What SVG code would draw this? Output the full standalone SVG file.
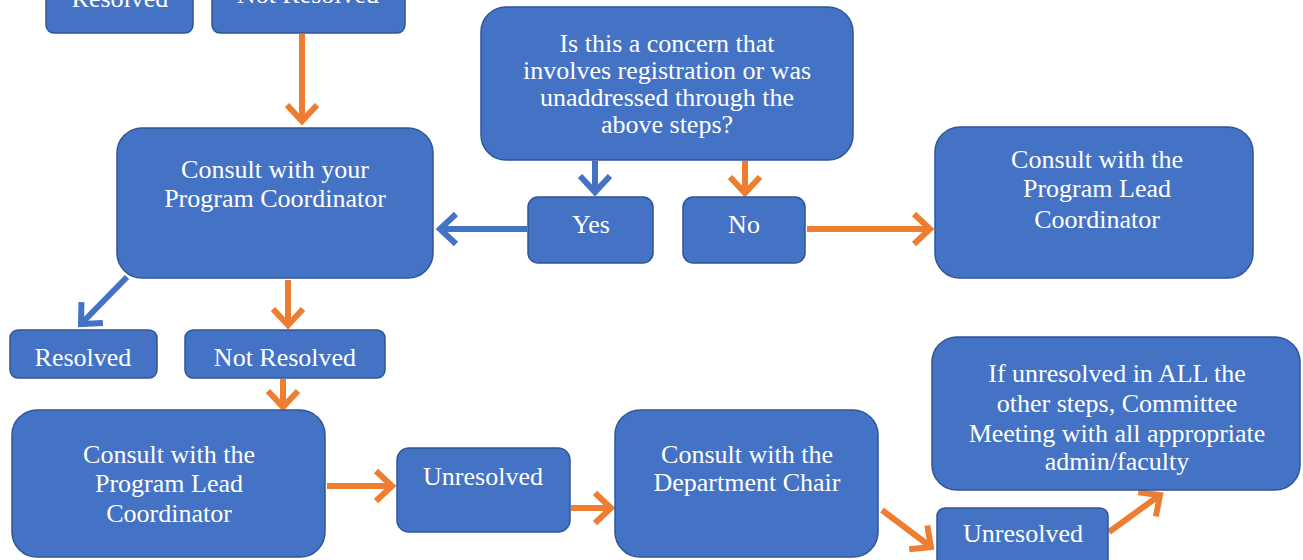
<svg xmlns="http://www.w3.org/2000/svg" width="1303" height="560" viewBox="0 0 1303 560">
<style>
.box{fill:#4472C4;stroke:#2F5597;stroke-width:1.5}
.t{fill:#ffffff;font-family:"Liberation Serif","Times New Roman",serif;font-size:26px;text-anchor:middle}
.ob{fill:none;stroke:#ED7D31;stroke-width:6}
.bb{fill:none;stroke:#4472C4;stroke-width:6}
</style>
<defs>
<marker id="ao" markerUnits="userSpaceOnUse" viewBox="-22 -18 28 36" markerWidth="28" markerHeight="36" refX="0" refY="0" orient="auto">
<path d="M-16,-15 L0,0 L-16,15" fill="none" stroke="#ED7D31" stroke-width="6"/>
</marker>
<marker id="ab" markerUnits="userSpaceOnUse" viewBox="-22 -18 28 36" markerWidth="28" markerHeight="36" refX="0" refY="0" orient="auto">
<path d="M-16,-15 L0,0 L-16,15" fill="none" stroke="#4472C4" stroke-width="6"/>
</marker>
</defs>
<rect width="1303" height="560" fill="#ffffff"/>
<g id="connectors">
<path class="ob" d="M302,34 L302,121" marker-end="url(#ao)"/>
<path class="bb" d="M595,161 L595,192" marker-end="url(#ab)"/>
<path class="ob" d="M745,161 L745,193" marker-end="url(#ao)"/>
<path class="bb" d="M527,229 L440,229" marker-end="url(#ab)"/>
<path class="ob" d="M807,229 L930,229" marker-end="url(#ao)"/>
<path class="bb" d="M127,277 L81,324" marker-end="url(#ab)"/>
<path class="ob" d="M288,280 L288,325" marker-end="url(#ao)"/>
<path class="ob" d="M283,379 L283,407" marker-end="url(#ao)"/>
<path class="ob" d="M327,486 L392,486" marker-end="url(#ao)"/>
<path class="ob" d="M571,508 L611,508" marker-end="url(#ao)"/>
<path class="ob" d="M882,510 L931,547" marker-end="url(#ao)"/>
<path class="ob" d="M1109,532 L1160,495" marker-end="url(#ao)"/>
</g>
<g id="top-resolved"><rect class="box" x="46" y="-20" width="147" height="53" rx="8"/><text class="t" x="120" y="7">Resolved</text></g>
<g id="top-not-resolved"><rect class="box" x="212" y="-20" width="193" height="53" rx="8"/><text class="t" x="308" y="3">Not Resolved</text></g>
<g id="program-coordinator"><rect class="box" x="117" y="128" width="316" height="150" rx="25"/><text class="t" x="275" y="178">Consult with your</text><text class="t" x="275" y="207">Program Coordinator</text></g>
<g id="question"><rect class="box" x="481" y="7" width="372" height="153" rx="25"/><text class="t" x="667" y="52">Is this a concern that</text><text class="t" x="667" y="79">involves registration or was</text><text class="t" x="667" y="106">unaddressed through the</text><text class="t" x="667" y="133">above steps?</text></g>
<g id="yes"><rect class="box" x="528" y="197" width="125" height="66" rx="10"/><text class="t" x="591" y="233">Yes</text></g>
<g id="no"><rect class="box" x="683" y="197" width="122" height="66" rx="10"/><text class="t" x="744" y="233">No</text></g>
<g id="lead-coordinator-right"><rect class="box" x="935" y="127" width="318" height="151" rx="25"/><text class="t" x="1097" y="168">Consult with the</text><text class="t" x="1097" y="197">Program Lead</text><text class="t" x="1097" y="228">Coordinator</text></g>
<g id="resolved"><rect class="box" x="10" y="330" width="147" height="48" rx="8"/><text class="t" x="83" y="366">Resolved</text></g>
<g id="not-resolved"><rect class="box" x="185" y="330" width="200" height="48" rx="8"/><text class="t" x="285" y="366">Not Resolved</text></g>
<g id="lead-coordinator-bottom"><rect class="box" x="12" y="410" width="313" height="147" rx="25"/><text class="t" x="169" y="463">Consult with the</text><text class="t" x="169" y="492">Program Lead</text><text class="t" x="169" y="522">Coordinator</text></g>
<g id="unresolved-1"><rect class="box" x="397" y="448" width="173" height="84" rx="12"/><text class="t" x="483" y="485">Unresolved</text></g>
<g id="department-chair"><rect class="box" x="615" y="410" width="263" height="147" rx="25"/><text class="t" x="747" y="463">Consult with the</text><text class="t" x="747" y="491">Department Chair</text></g>
<g id="unresolved-2"><rect class="box" x="937" y="508" width="171" height="60" rx="8"/><text class="t" x="1023" y="542">Unresolved</text></g>
<g id="committee"><rect class="box" x="932" y="337" width="368" height="153" rx="25"/><text class="t" x="1117" y="382">If unresolved in ALL the</text><text class="t" x="1117" y="412">other steps, Committee</text><text class="t" x="1117" y="442">Meeting with all appropriate</text><text class="t" x="1117" y="470">admin/faculty</text></g>
</svg>
